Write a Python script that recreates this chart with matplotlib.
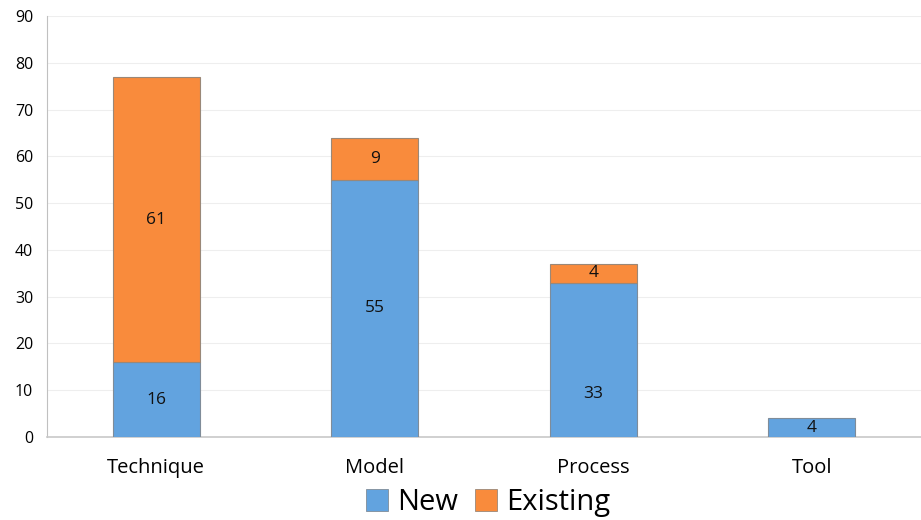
import matplotlib
matplotlib.use("Agg")
import matplotlib.pyplot as plt
from matplotlib.patches import Patch

categories = ["Technique", "Model", "Process", "Tool"]
new_vals = [16, 55, 33, 4]
existing_vals = [61, 9, 4, 0]
yticks = [0, 10, 20, 30, 40, 50, 60, 70, 80, 90]
# label vertical positions as placed in the reference (data units)
new_label_y = [8, 27.5, 9.3, 2]

plt.rcParams['font.family'] = ['Open Sans', 'DejaVu Sans']
blue = '#62A3DF'
orange = '#F98B3C'

fig = plt.figure(figsize=(9.21, 5.2), dpi=100)
ax = fig.add_axes([0.051, 0.1596, 0.949, 0.8095])
x = list(range(len(categories)))
ax.bar(x, new_vals, width=0.4, color=blue, edgecolor='#7f8c99', linewidth=0.8, zorder=3)
ex_x = [i for i, v in zip(x, existing_vals) if v > 0]
ex_v = [v for v in existing_vals if v > 0]
ex_b = [new_vals[i] for i in ex_x]
ax.bar(ex_x, ex_v, width=0.4, bottom=ex_b, color=orange, edgecolor='#9a8878', linewidth=0.8, zorder=3)

for i, v in enumerate(new_vals):
    if v > 0:
        ax.text(i, new_label_y[i], str(v), ha='center', va='center', fontsize=12.5, color='#111111', zorder=4)
for i, v in enumerate(existing_vals):
    if v > 0:
        ax.text(i, new_vals[i] + v / 2, str(v), ha='center', va='center', fontsize=12.5, color='#111111', zorder=4)

ax.set_xlim(-0.5, 3.5)
ax.set_ylim(0, 90)
ax.set_yticks(yticks)
ax.set_xticks(x)
ax.set_xticklabels(categories, fontsize=14.5)
ax.tick_params(axis='y', length=0, labelsize=11.5, pad=10)
ax.tick_params(axis='x', length=0, pad=15)
ax.grid(axis='y', color='#EEEEEE', linewidth=0.8, zorder=0)
for s in ['top', 'right']:
    ax.spines[s].set_visible(False)
ax.spines['left'].set_color('#C0C0C0')
ax.spines['bottom'].set_color('#C8C8C8')
ax.spines['bottom'].set_linewidth(1.2)

handles = [Patch(facecolor=blue, edgecolor='#7f8c99', linewidth=0.6),
           Patch(facecolor=orange, edgecolor='#9a8878', linewidth=0.6)]
fig.legend(handles, ["New", "Existing"], loc='lower center', bbox_to_anchor=(0.530, -0.045),
           ncol=2, frameon=False, fontsize=21, handlelength=0.75, handleheight=0.75,
           handletextpad=0.3, columnspacing=0.6)

fig.savefig("out.png", dpi=100)
